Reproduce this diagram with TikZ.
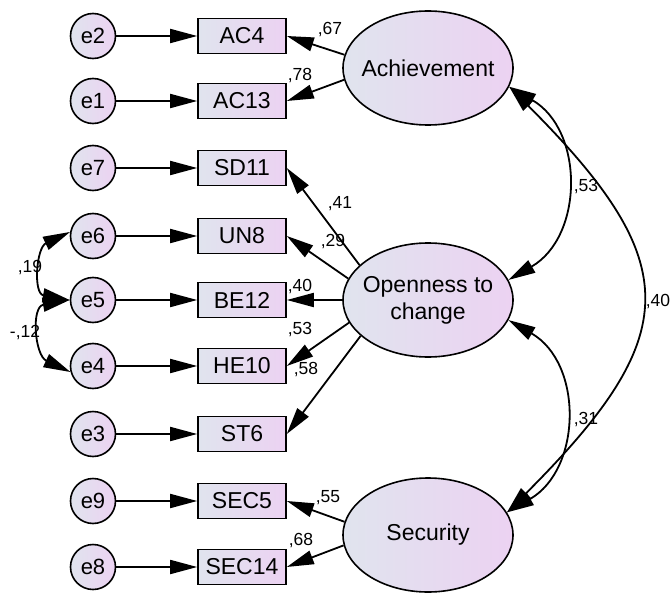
\documentclass[tikz,border=0pt]{standalone}
\usepackage{fontspec}
\setmainfont{Liberation Sans}
\usetikzlibrary{arrows.meta,shapes.geometric}
\definecolor{shadeA}{RGB}{224,228,238}
\definecolor{shadeB}{RGB}{236,210,242}
\begin{document}
\begin{tikzpicture}[x=1pt,y=-1pt,
  every node/.style={inner sep=0pt},
  tint/.style={draw=black, line width=1.6pt, left color=shadeA, right color=shadeB},
  errnode/.style={tint, circle, minimum size=45pt, font=\fontsize{22}{24}\selectfont},
  obsnode/.style={tint, rectangle, minimum width=88pt, minimum height=35pt, font=\fontsize{23}{26}\selectfont},
  latnode/.style={tint, ellipse, minimum width=170pt, minimum height=114pt},
  latlabel/.style={font=\fontsize{23}{27}\selectfont, align=center},
  link/.style={line width=1.8pt, -{Triangle[length=27pt,width=14pt]}},
  corr/.style={line width=1.8pt, {Triangle[length=27pt,width=14pt]}-{Triangle[length=27pt,width=14pt]}},
  coef/.style={font=\fontsize{17.5}{19}\selectfont}
]
\useasboundingbox (0,0) rectangle (672,594);

% latent factors
\node[latnode, label={[latlabel]center:Achievement}] (ach) at (428,68) {};
\node[latnode, label={[latlabel]center:Openness to\\change}] (opn) at (428,300) {};
\node[latnode, label={[latlabel]center:Security}] (sec) at (428,535) {};

% observed indicators and their error terms
\foreach \nm/\err/\yy in {AC4/e2/36, AC13/e1/101, SD11/e7/168, UN8/e6/236,
                          BE12/e5/300, HE10/e4/366, ST6/e3/434, SEC5/e9/501, SEC14/e8/567}{
  \node[obsnode] (\nm) at (242,\yy) {\nm};
  \node[errnode] (\err) at (93,\yy) {\err};
  \draw[link] (\err.east) -- (\nm.west);
}

% loadings
\draw[link] (ach.171) -- (AC4.east);
\draw[link] (ach.188) -- (AC13.east);
\draw[link] (opn.153) -- (SD11.east);
\draw[link] (opn.165) -- (UN8.east);
\draw[link] (opn.west) -- (BE12.east);
\draw[link] (opn.196) -- (HE10.east);
\draw[link] (opn.208) -- (ST6.east);
\draw[link] (sec.171) -- (SEC5.east);
\draw[link] (sec.187) -- (SEC14.east);

\node[coef] (l67) at (330,30) {,67};
\node[coef] (l78) at (300,76) {,78};
\node[coef] (l41) at (340,204) {,41};
\node[coef] (l29) at (333,242) {,29};
\node[coef] (l40) at (300,287) {,40};
\node[coef] (l53) at (300,330) {,53};
\node[coef] (l58) at (306,370) {,58};
\node[coef] (l55) at (328,498) {,55};
\node[coef] (l68) at (301,541) {,68};

% factor covariances
\draw[corr] (ach.347) to[out=-30,in=30,looseness=1.15] (opn.14);
\draw[corr] (opn.346) to[out=-30,in=30,looseness=1.15] (sec.16);
\draw[corr] (ach.347) to[out=-45,in=45,looseness=1.5] (sec.16);
\node[coef] (r53) at (586,187) {,53};
\node[coef] (r31) at (586,420) {,31};
\node[coef] (r40) at (658,302) {,40};

% error covariances
\draw[corr] (e6.170) to[out=205,in=170,looseness=1.4] (e5.west);
\draw[corr] (e5.west) to[out=190,in=155,looseness=1.4] (e4.195);
\node[coef] (r19) at (30,268) {,19};
\node[coef] (r12) at (25,333) {-,12};
\end{tikzpicture}
\end{document}
